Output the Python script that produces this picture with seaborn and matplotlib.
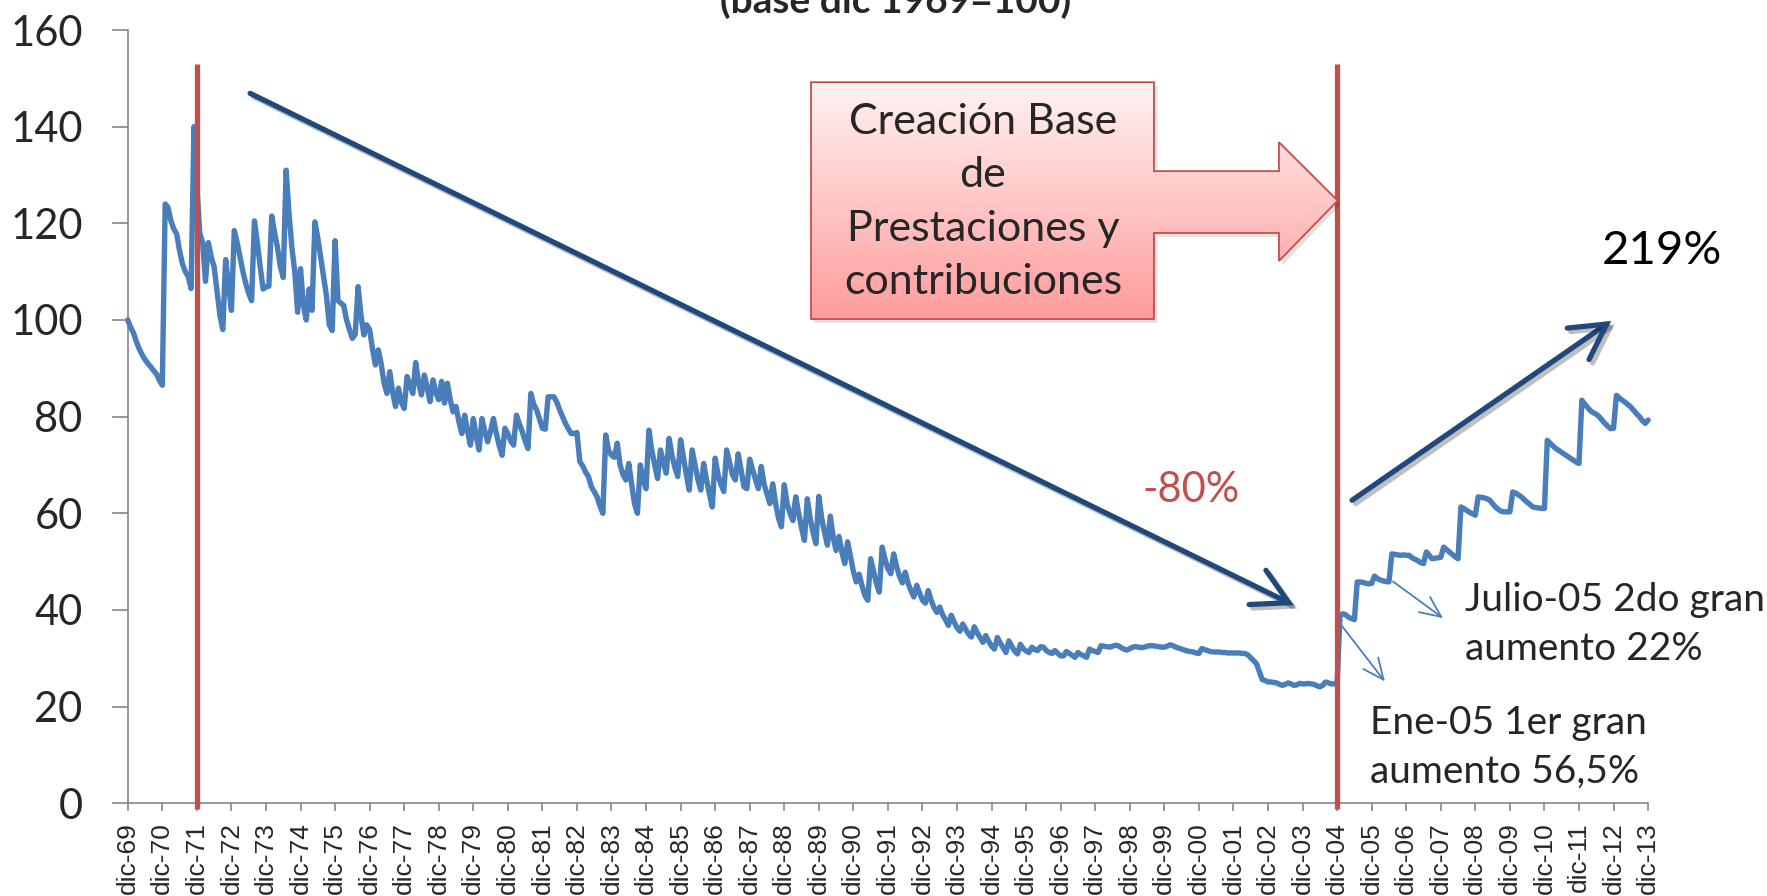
import numpy as np
import pandas as pd
import matplotlib
matplotlib.use("Agg")
import matplotlib.pyplot as plt
import seaborn as sns
from matplotlib.patches import Polygon
from matplotlib.colors import LinearSegmentedColormap
from matplotlib import patheffects as pe

# ---------------- data (monthly index, base dic-1969 = 100) ----------------
dec_1969 = [100.0]
months_1970s = [
    98.5, 97.3, 95.5, 94.0, 92.8, 91.8, 91.0, 90.3, 89.5, 88.8, 87.5, 86.5,
    124.0, 123.3, 120.5, 118.8, 117.8, 114.3, 111.6, 110.0, 109.0, 106.5, 140.0, 128.0,
    118.0, 116.0, 108.0, 116.0, 113.0, 111.0, 106.0, 101.0, 98.0, 112.5, 107.0, 102.0,
    118.5, 116.0, 113.0, 110.0, 107.5, 105.5, 104.0, 120.5, 116.0, 111.0, 106.4, 106.8,
    107.0, 121.5, 118.0, 115.0, 111.0, 108.8, 131.0, 122.0, 115.0, 110.0, 101.6, 110.6,
    103.0, 100.0, 106.4, 102.0, 120.3, 117.0, 113.0, 109.0, 105.0, 99.0, 97.8, 116.4,
    104.0, 103.5, 103.0, 100.0, 98.0, 96.2, 97.0, 106.9, 101.0, 96.9, 99.0, 98.0,
    94.0, 90.7, 93.8, 91.0, 87.0, 84.8, 89.3, 85.0, 82.1, 85.9, 83.0, 81.7,
    88.3, 86.5, 84.8, 91.2, 87.0, 84.5, 88.6, 86.0, 83.1, 87.6, 85.0, 83.5,
    87.3, 82.8, 86.9, 83.5, 81.0, 82.1, 79.0, 76.5, 80.3, 77.0, 74.1, 79.6,
]
months_1980s = [
    76.0, 73.1, 79.6, 77.0, 74.8, 77.0, 79.6, 76.5, 74.0, 72.0, 77.6, 76.5,
    75.0, 74.1, 80.3, 78.5, 76.9, 75.0, 73.4, 84.8, 82.5, 81.4, 79.5, 77.6,
    77.4, 84.1, 84.1, 84.1, 83.0, 81.4, 80.0, 78.6, 77.5, 76.5, 76.5, 76.7,
    70.7, 69.8, 68.5, 67.6, 65.5, 64.5, 63.4, 61.5, 60.0, 76.2, 73.0, 72.0,
    71.6, 74.5, 70.0, 68.0, 66.9, 70.3, 66.0, 62.0, 60.0, 70.0, 67.0, 65.1,
    77.2, 73.0, 70.0, 67.2, 73.1, 70.5, 68.3, 75.5, 72.0, 69.5, 67.6, 75.2,
    71.5, 68.0, 64.8, 73.1, 70.0, 67.0, 64.8, 70.3, 67.0, 64.0, 61.3, 71.4,
    68.0, 66.0, 64.5, 73.1, 70.5, 68.0, 66.9, 72.3, 69.0, 65.5, 65.1, 71.2,
    69.0, 67.0, 65.1, 69.7, 66.0, 64.0, 62.0, 66.1, 62.0, 59.0, 57.2, 65.9,
    62.0, 60.0, 58.5, 63.4, 60.0, 57.0, 54.4, 63.0, 59.0, 56.0, 53.7, 63.5,
]
months_1990s = [
    59.0, 56.0, 53.4, 59.4, 55.0, 52.3, 55.2, 52.0, 49.6, 54.1, 51.0, 48.0,
    45.8, 47.4, 45.0, 43.0, 42.0, 50.6, 48.0, 45.5, 43.7, 53.0, 50.5, 48.5,
    47.5, 51.6, 49.0, 47.0, 45.6, 47.8, 45.5, 44.0, 42.7, 45.1, 43.5, 42.0,
    41.4, 44.0, 42.0, 40.5, 39.5, 40.6, 39.0, 38.0, 36.8, 38.9, 37.5, 36.3,
    35.6, 37.1, 36.0, 35.0, 34.4, 36.5, 35.3, 34.3, 33.3, 34.7, 33.5, 32.5,
    31.9, 34.3, 33.2, 32.2, 31.2, 33.6, 32.5, 31.5, 30.9, 32.9, 32.0, 31.5,
    31.2, 32.3, 31.8, 31.6, 32.4, 32.3, 31.6, 31.2, 31.0, 31.6, 31.0, 30.5,
    30.5, 31.4, 31.0, 30.6, 30.2, 31.2, 30.8, 30.5, 30.2, 31.9, 31.6, 31.4,
    31.2, 32.6, 32.5, 32.4, 32.3, 32.5, 32.7, 32.6, 32.2, 31.9, 31.7, 32.0,
    32.3, 32.4, 32.3, 32.2, 32.3, 32.5, 32.6, 32.6, 32.5, 32.4, 32.3, 32.3,
]
months_2000s = [
    32.5, 32.8, 32.6, 32.3, 32.1, 31.9, 31.7, 31.5, 31.4, 31.3, 31.1, 31.0,
    32.0, 31.8, 31.6, 31.4, 31.3, 31.3, 31.3, 31.2, 31.2, 31.1, 31.1, 31.1,
    31.1, 31.1, 31.0, 31.0, 30.7, 30.1, 29.5, 28.9, 27.2, 25.6, 25.4, 25.1,
    25.1, 25.0, 24.9, 24.6, 24.4, 24.6, 24.9, 24.7, 24.4, 24.5, 24.8, 24.7,
    24.7, 24.8, 24.7, 24.6, 24.3, 24.1, 24.4, 25.1, 24.9, 24.7, 24.7, 24.6,
    38.9, 39.2, 39.0, 38.5, 38.2, 38.0, 45.8, 45.8, 45.7, 45.5, 45.4, 45.5,
    47.0, 46.5, 46.2, 46.0, 45.9, 45.8, 51.6, 51.5, 51.4, 51.3, 51.4, 51.3,
    51.3, 50.8, 50.5, 50.2, 49.8, 49.6, 52.0, 51.3, 50.6, 50.7, 50.8, 50.9,
    53.0, 52.5, 52.0, 51.5, 51.0, 50.6, 61.3, 61.0, 60.6, 60.2, 59.9, 59.6,
    63.4, 63.3, 63.2, 63.0, 62.7, 62.0, 61.3, 60.8, 60.4, 60.3, 60.3, 60.3,
]
months_2010s = [
    64.4, 64.2, 63.8, 63.4, 62.8, 62.3, 61.8, 61.3, 61.2, 61.1, 61.0, 61.0,
    75.1, 74.5, 73.9, 73.4, 73.0, 72.6, 72.2, 71.8, 71.4, 71.0, 70.6, 70.3,
    83.4, 82.6, 81.9, 81.2, 80.8, 80.5, 80.0, 79.3, 78.6, 78.0, 77.5, 77.6,
    84.4, 83.9, 83.4, 83.0, 82.5, 82.0, 81.3, 80.6, 80.0, 79.2, 78.6, 79.3,
]
tick_labels = ["dic-69", "dic-70", "dic-71", "dic-72", "dic-73", "dic-74", "dic-75",
               "dic-76", "dic-77", "dic-78", "dic-79", "dic-80", "dic-81", "dic-82",
               "dic-83", "dic-84", "dic-85", "dic-86", "dic-87", "dic-88", "dic-89",
               "dic-90", "dic-91", "dic-92", "dic-93", "dic-94", "dic-95", "dic-96",
               "dic-97", "dic-98", "dic-99", "dic-00", "dic-01", "dic-02", "dic-03",
               "dic-04", "dic-05", "dic-06", "dic-07", "dic-08", "dic-09", "dic-10",
               "dic-11", "dic-12", "dic-13"]
y_ticks = [0, 20, 40, 60, 80, 100, 120, 140, 160]
event_labels = ["dic-71", "dic-04"]

values = dec_1969 + months_1970s + months_1980s + months_1990s + months_2000s + months_2010s
df = pd.DataFrame({"mes": np.arange(len(values)), "indice": values})

# ---------------- figure ----------------
sns.set_style("white")
plt.rcParams["font.family"] = ["Lato", "DejaVu Sans"]

fig = plt.figure(figsize=(17.67, 8.96), dpi=100)
ax = fig.add_axes([0.0723, 0.1035, 0.9327 - 0.0723, 0.9665 - 0.1035])

sns.lineplot(data=df, x="mes", y="indice", ax=ax, color="#4A7EBB",
             linewidth=3.9, zorder=3, clip_on=False,
             solid_joinstyle="round", solid_capstyle="round")

# event lines
tick_pos = [12 * i for i in range(len(tick_labels))]
event_pos = [tick_pos[tick_labels.index(e)] for e in event_labels]
ax.vlines(event_pos, -1.2, 153, color="#C0504D", lw=3.8, zorder=4, clip_on=False)

# axes styling
ax.set_xlim(0, tick_pos[-1])
ax.set_ylim(0, 160)
ax.set_xticks(tick_pos)
ax.set_xticklabels(tick_labels, rotation=90, fontsize=19, family="Liberation Sans")
ax.set_yticks(y_ticks)
ax.set_yticklabels([str(v) for v in y_ticks], fontsize=30)
ax.tick_params(axis="y", direction="out", length=11.5, width=1.2, color="#868686", pad=21,
               left=True)
ax.tick_params(axis="x", direction="out", length=5.8, width=1.2, color="#868686", pad=8,
               bottom=True)
ax.set_xlabel("")
ax.set_ylabel("")
for s in ["top", "right"]:
    ax.spines[s].set_visible(False)
for s in ["left", "bottom"]:
    ax.spines[s].set_color("#868686")
    ax.spines[s].set_linewidth(1.2)
ax.grid(False)

# title (cut at the top of the picture, as in the reference)
fig.text(0.507, 0.986, "(base dic 1969=100)", ha="center", va="baseline",
         fontsize=28, fontweight="bold")

# big trend arrows
shadow = [pe.SimpleLineShadow(offset=(2.5, -2.5), alpha=0.25, shadow_color="black"), pe.Normal()]
a1 = ax.annotate("", xy=(404.9, 41.0), xytext=(42.5, 146.9),
                 arrowprops=dict(arrowstyle="->,head_length=1.0,head_width=0.55",
                                 color="#1F497D", lw=3.8, shrinkA=0, shrinkB=0,
                                 mutation_scale=25, joinstyle="miter"),
                 annotation_clip=False, zorder=5)
a1.arrow_patch.set_path_effects(shadow)
a2 = ax.annotate("", xy=(515.2, 99.8), xytext=(425.2, 62.7),
                 arrowprops=dict(arrowstyle="->,head_length=1.0,head_width=0.55",
                                 color="#1F497D", lw=3.8, shrinkA=0, shrinkB=0,
                                 mutation_scale=25, joinstyle="miter"),
                 annotation_clip=False, zorder=5)
a2.arrow_patch.set_path_effects(shadow)

# thin arrows to the jumps
for start, end in [((421.0, 37.2), (436.6, 25.2)), ((439.4, 45.9), (456.8, 38.3))]:
    ax.annotate("", xy=end, xytext=start,
                arrowprops=dict(arrowstyle="->,head_length=1.0,head_width=0.45",
                                color="#4A7EBB", lw=1.3, shrinkA=0, shrinkB=0,
                                mutation_scale=15),
                annotation_clip=False, zorder=5)

# callout (right arrow callout with gradient fill)
callout_pts = [(237.3, 149.2), (356.4, 149.2), (356.4, 130.8), (399.8, 130.8),
               (399.8, 136.8), (420.2, 124.7), (399.8, 112.2), (399.8, 118.0),
               (356.4, 118.0), (356.4, 100.2), (237.3, 100.2)]
poly = Polygon(callout_pts, closed=True, facecolor="none", edgecolor="#C0504D",
               lw=1.3, zorder=7)
ax.add_patch(poly)
shadow_poly = Polygon([(x + 1.2, y - 0.8) for x, y in callout_pts], closed=True,
                      facecolor="#000000", alpha=0.12, edgecolor="none", zorder=5.5)
ax.add_patch(shadow_poly)
grad = np.linspace(0, 1, 256).reshape(-1, 1)
cmap = LinearSegmentedColormap.from_list("pk", ["#FFF2F2", "#FF9C9C"])
im = ax.imshow(grad, extent=(237.3, 420.2, 100.2, 149.2), origin="upper", cmap=cmap,
               aspect="auto", zorder=6, interpolation="bilinear")
im.set_clip_path(poly)
ax.text(297.0, 124.4, "Creación Base\nde\nPrestaciones y\ncontribuciones",
        ha="center", va="center", fontsize=31, linespacing=1.5, zorder=8)

# texts
ax.text(369.2, 64.9, "-80%", color="#C0504D", fontsize=30, ha="center", va="center", zorder=8)
ax.text(532.7, 114.2, "219%", color="black", fontsize=34, ha="center", va="center",
        clip_on=False, zorder=8)
ax.text(464.3, 36.9, "Julio-05 2do gran\naumento 22%", fontsize=28, ha="left",
        va="center", linespacing=1.45, clip_on=False, zorder=8)
ax.text(431.4, 11.6, "Ene-05 1er gran\naumento 56,5%", fontsize=28, ha="left",
        va="center", linespacing=1.45, clip_on=False, zorder=8)

ax.set_xlim(0, tick_pos[-1])
ax.set_ylim(0, 160)

fig.savefig("out.png", dpi=100)
